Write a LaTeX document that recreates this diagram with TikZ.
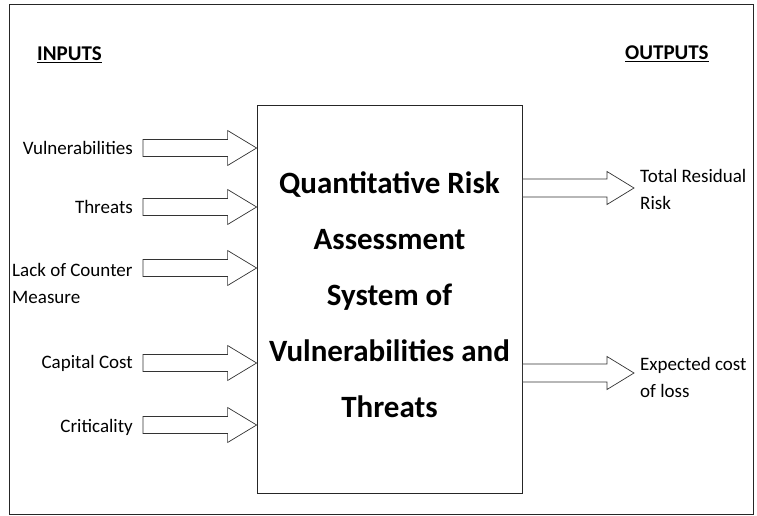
\documentclass[tikz,border=0pt]{standalone}
\usepackage{fontspec}
\setmainfont{Carlito}
\usetikzlibrary{calc}
\begin{document}
\begin{tikzpicture}[x=1pt,y=-1pt,
  frame/.style={draw=black!85, line width=0.8pt},
  lab/.style={font=\fontsize{19}{27}\selectfont, inner sep=0pt, align=left},
  heading/.style={font=\bfseries\fontsize{21}{24}\selectfont, inner sep=0pt},
  title/.style={font=\bfseries\fontsize{31}{56}\selectfont, align=center, inner sep=0pt},
  % block arrow: shaft half height, head half height, head length
  blockarrow/.style n args={3}{draw=black!80, line width=0.7pt, fill=white, line join=miter,
    to path={let \p1=(\tikztostart), \p2=(\tikztotarget) in
      (\x1,\y1+#1pt) -- (\x2-#3pt,\y1+#1pt) -- (\x2-#3pt,\y1+#2pt) -- (\x2,\y1)
      -- (\x2-#3pt,\y1-#2pt) -- (\x2-#3pt,\y1-#1pt) -- (\x1,\y1-#1pt) -- cycle}},
  inarrow/.style={blockarrow={8.5}{17.5}{29}},
  outarrow/.style={blockarrow={9}{16.5}{27}},
]
\useasboundingbox (0,0) rectangle (757,516);
\draw[frame] (9,4) rectangle (753,514);

% headings
\node[heading, anchor=west] (inputs) at (37,55) {\underline{INPUTS}};
\node[heading, anchor=west] (outputs) at (625,54) {\underline{OUTPUTS}};

% central system block
\node[frame, minimum width=265, minimum height=388, inner sep=0pt] (box) at (389.5,299) {};
\node[title] (ttl) at (389.5,295) {Quantitative Risk\\Assessment\\System of\\Vulnerabilities and\\Threats};

% input labels
\node[lab, anchor=east] (l1) at (133,148) {Vulnerabilities};
\node[lab, anchor=east] (l2) at (133,207) {Threats};
\node[lab, anchor=west] (l3) at (12,283) {Lack of Counter\\Measure};
\node[lab, anchor=east] (l4) at (133,363) {Capital Cost};
\node[lab, anchor=east] (l5) at (133,427) {Criticality};

% input arrow tails
\coordinate (t1) at (143,148);
\coordinate (t2) at (143,207);
\coordinate (t3) at (143,268);
\coordinate (t4) at (143,363);
\coordinate (t5) at (143,425);
\foreach \i in {1,...,5}{
  \draw[inarrow] (t\i) to (t\i -| box.west);
}

% outputs
\node[lab, anchor=west] (o1) at (640,189) {Total Residual\\Risk};
\node[lab, anchor=west] (o2) at (640,377) {Expected cost\\of loss};
\coordinate (s1) at (634,188);
\coordinate (s2) at (634,373);
\draw[outarrow] (s1 -| box.east) to (s1);
\draw[outarrow] (s2 -| box.east) to (s2);
\end{tikzpicture}
\end{document}
